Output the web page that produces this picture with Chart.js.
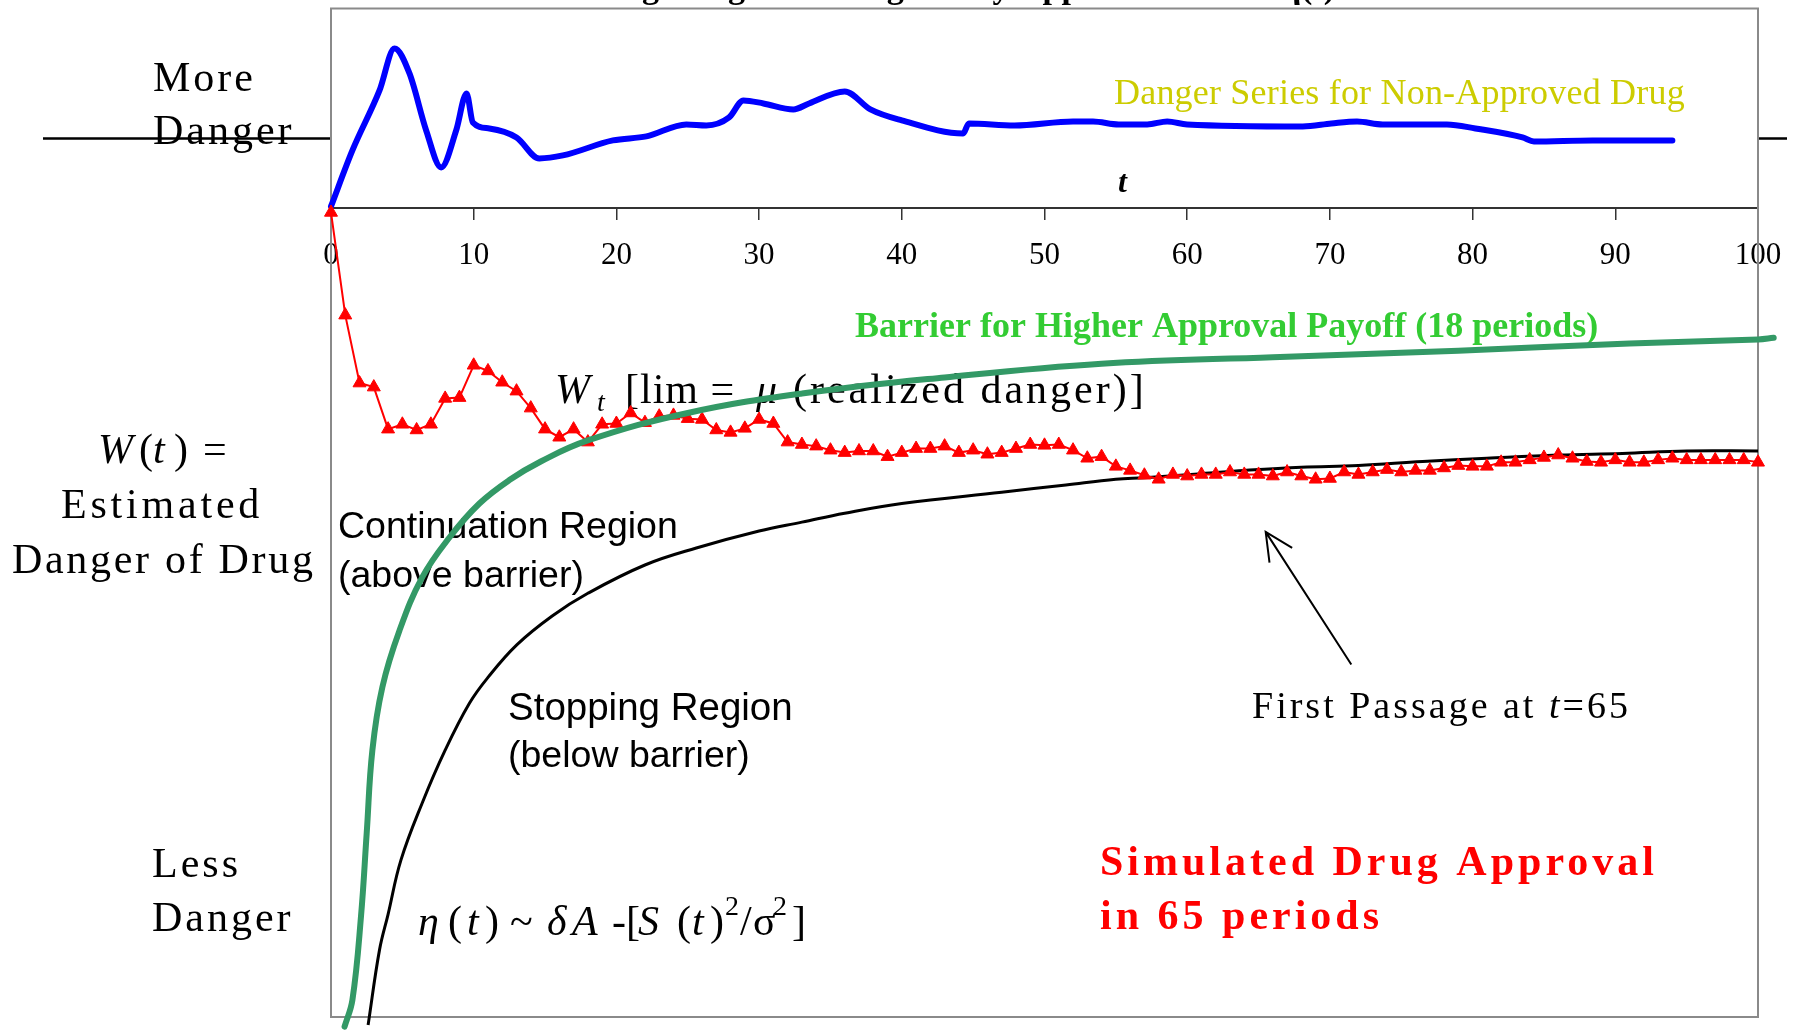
<!DOCTYPE html>
<html><head><meta charset="utf-8">
<script src="https://cdn.jsdelivr.net/npm/chart.js@4.4.0/dist/chart.umd.min.js"></script>
<style>html,body{margin:0;padding:0;background:#fff;}#wrap{width:1804px;height:1030px;}</style>
</head><body><div id="wrap"><canvas id="c" width="1804" height="1030"></canvas></div>
<script>
// ---------- data ----------
const tickValues = [0,10,20,30,40,50,60,70,80,90,100];

// Estimated danger W(t) (red triangles), main panel units (0 = bottom, 100 = t-axis)
const redT = [0,1,2,3,4,5,6,7,8,9,10,11,12,13,14,15,16,17,18,19,20,21,22,23,24,25,26,27,28,29,30,31,32,33,34,35,36,37,38,39,40,41,42,43,44,45,46,47,48,49,50,51,52,53,54,55,56,57,58,59,60,61,62,63,64,65,66,67,68,69,70,71,72,73,74,75,76,77,78,79,80,81,82,83,84,85,86,87,88,89,90,91,92,93,94,95,96,97,98,99,100];
const redW = [99.5,86.8,78.4,77.9,72.7,73.3,72.6,73.3,76.5,76.6,
  80.6,79.9,78.5,77.4,75.3,72.7,71.7,72.7,71.1,73.3,
  73.4,74.7,73.5,74.3,74.4,74.0,73.9,72.6,72.3,72.8,
  73.9,73.4,71.1,70.8,70.6,70.1,69.8,70.0,70.0,69.3,
  69.8,70.3,70.3,70.6,69.8,70.1,69.6,69.8,70.3,70.8,
  70.7,70.8,70.1,69.1,69.3,68.1,67.6,67.0,66.5,67.1,
  66.9,67.1,67.1,67.4,67.1,67.1,66.9,67.4,66.9,66.5,
  66.6,67.4,67.1,67.4,67.7,67.4,67.6,67.6,67.9,68.2,
  68.1,68.1,68.6,68.6,68.9,69.2,69.5,69.1,68.7,68.6,
  68.9,68.6,68.6,68.9,69.1,68.9,68.9,68.9,68.9,68.9,68.6];

// Barrier for higher approval payoff (green)
const barrierT = [0.95,1.5,2.1,2.5,2.9,3.6,4.8,6.4,8.3,10.4,12.5,14.7,18,25,33,43,54,66,79,91,100,101.1];
const barrierV = [-1.2,2.1,12.4,22.7,33.0,40.8,47.8,54.4,59.3,63.5,66.4,68.7,71.3,74.7,77.1,79.1,80.8,81.6,82.4,83.3,83.8,84.0];

// eta(t) curve (black)
const etaT = [2.6,3.4,4,4.9,6.4,8,9.7,11,13,15.5,18,22,25.6,30,33,36,40,47,51.5,55,57,61,64,68,72,76.5,81,86,90.5,95,100];
const etaV = [-1.0,8.3,12.7,19.4,26.5,33.0,38.8,42.0,46.0,49.6,52.4,55.9,58.0,60.1,61.2,62.3,63.5,64.9,65.8,66.5,66.7,67.2,67.6,68.0,68.2,68.7,69.1,69.5,69.7,70.0,70.0];

// Danger series for non-approved drug (blue), top panel units
const dangerT = [0,1.5,3.4,4.45,5.5,6.67,7.72,8.77,9.5,9.94,11.1,13,14.6,16.25,19.75,22.1,24.9,26.3,27.9,28.9,30.3,32.4,33.5,36,37.8,40,44.3,44.7,47.9,52,53.4,55.2,57.2,58.6,60,68.1,70.1,71.9,73.7,78.2,80.2,83.5,84.3,88.4,94];
const dangerV = [1,29,59,80,67.5,39,20.5,39,57.5,43,40,35.5,25,26.5,34,36,42,41.5,45.5,54,52.5,49.5,52.5,58.5,49.5,44,37.5,42.5,41.5,43.5,43.5,42,42,43.5,42,41,42.5,43.5,42,42,40,35.5,33.5,34,34];
const dangerReference = 35;

// ---------- helpers ----------
const pts = (xs, ys) => xs.map((x, i) => ({x: x, y: ys[i]}));
const serif = '"Liberation Serif","Times New Roman",serif';
const sans = '"Liberation Sans",Arial,sans-serif';

function txt(ctx, s, x, y, font, color, ls, align) {
  ctx.font = font;
  ctx.fillStyle = color || '#000';
  ctx.letterSpacing = (ls || 0) + 'px';
  ctx.textAlign = align || 'left';
  ctx.textBaseline = 'alphabetic';
  ctx.fillText(s, x, y);
}

const annotations = {
  id: 'annotations',
  beforeDatasetsDraw(chart) {
    const ctx = chart.ctx;
    const a = chart.chartArea;
    const yTop = chart.scales.yTop;
    ctx.save();
    // clipped title (only descenders visible)
    txt(ctx, 'Drug Danger and Regulatory Approval Barrier \u03B7(t)', 1335, -2, 'bold 34px ' + serif, '#000', 0, 'right');

    // reference line of danger panel outside the box
    const ly = yTop.getPixelForValue(dangerReference);
    ctx.strokeStyle = '#000'; ctx.lineWidth = 2.5;
    ctx.beginPath(); ctx.moveTo(43, ly); ctx.lineTo(a.left, ly);
    ctx.moveTo(a.right, ly); ctx.lineTo(1787, ly); ctx.stroke();

    // plot box
    ctx.strokeStyle = '#8a8a8a'; ctx.lineWidth = 2;
    ctx.strokeRect(a.left, a.top, a.right - a.left, a.bottom - a.top);

    // left labels
    const L = '42px ' + serif;
    txt(ctx, 'More', 153, 91, L, '#000', 3);
    txt(ctx, 'Danger', 153, 144, L, '#000', 3);
    txt(ctx, 'W', 98, 463, 'italic 42px ' + serif, '#000', 0);
    txt(ctx, '(', 139, 463, L, '#000', 0);
    txt(ctx, 't', 153, 463, 'italic 42px ' + serif, '#000', 0);
    txt(ctx, ')', 174, 463, L, '#000', 0);
    txt(ctx, '=', 203, 463, L, '#000', 0);
    txt(ctx, 'Estimated', 61, 518, L, '#000', 3.8);
    txt(ctx, 'Danger of Drug', 12, 573, L, '#000', 2.7);
    txt(ctx, 'Less', 152, 877, L, '#000', 3);
    txt(ctx, 'Danger', 152, 931, L, '#000', 3);

    // top panel labels
    txt(ctx, 'Danger Series for Non-Approved Drug', 1114, 104, '36px ' + serif, '#CCCC00', 0.2);
    txt(ctx, 't', 1118, 192, 'italic bold 32px ' + serif, '#000', 0);

    // barrier label
    txt(ctx, 'Barrier for Higher Approval Payoff (18 periods)', 855, 337, 'bold 36px ' + serif, '#33CC33', 0);

    // W_t label
    txt(ctx, 'W', 555, 403, 'italic 42px ' + serif, '#000', 0);
    txt(ctx, 't', 597, 411, 'italic 28px ' + serif, '#000', 0);
    txt(ctx, '[lim =', 625, 403, '42px ' + serif, '#000', 1);
    txt(ctx, '\u03BC', 756, 403, 'italic 42px ' + serif, '#000', 0);
    txt(ctx, '(realized danger)]', 793, 403, '42px ' + serif, '#000', 3);

    // region labels
    const S = '37.5px ' + sans;
    txt(ctx, 'Continuation Region', 338, 538, S, '#000', 0);
    txt(ctx, '(above barrier)', 338, 587, S, '#000', 0);
    txt(ctx, 'Stopping Region', 508, 720, '38.5px ' + sans, '#000', 0);
    txt(ctx, '(below barrier)', 508, 767, '37.5px ' + sans, '#000', 0);

    // eta formula
    const I = 'italic 42px ' + serif, R = '42px ' + serif, sup = '28px ' + serif;
    txt(ctx, '\u03B7', 418, 935, I); txt(ctx, '(', 448, 935, R); txt(ctx, 't', 467, 935, I);
    txt(ctx, ')', 485, 935, R); txt(ctx, '~', 510, 935, R); txt(ctx, '\u03B4', 547, 935, I);
    txt(ctx, 'A', 572, 935, I); txt(ctx, '-[', 612, 935, R); txt(ctx, 'S', 638, 935, I);
    txt(ctx, '(', 677, 935, R); txt(ctx, 't', 692, 935, I); txt(ctx, ')', 710, 935, R);
    txt(ctx, '2', 725, 915, sup); txt(ctx, '/', 740, 935, R); txt(ctx, '\u03C3', 753, 935, R);
    txt(ctx, '2', 773, 915, sup); txt(ctx, ']', 792, 935, R);

    // first passage
    const F = '38px ' + serif;
    txt(ctx, 'First Passage at ', 1252, 718, F, '#000', 3);
    const w = ctx.measureText('First Passage at ').width;
    txt(ctx, 't', 1252 + w, 718, 'italic 38px ' + serif, '#000', 3);
    const w2 = ctx.measureText('t').width;
    txt(ctx, '=65', 1252 + w + w2, 718, F, '#000', 3);

    // simulated approval
    txt(ctx, 'Simulated Drug Approval', 1100, 875, 'bold 42px ' + serif, '#FF0000', 4);
    txt(ctx, 'in 65 periods', 1100, 929, 'bold 42px ' + serif, '#FF0000', 4);
    ctx.restore();
  },
  afterDatasetsDraw(chart) {
    const ctx = chart.ctx;
    const x = chart.scales.x, y = chart.scales.yMain;
    const x0 = x.getPixelForValue(71.5), y0 = y.getPixelForValue(43.6);
    const x1 = x.getPixelForValue(65.5), y1 = y.getPixelForValue(60.0);
    const ang = Math.atan2(y1 - y0, x1 - x0);
    ctx.save();
    ctx.strokeStyle = '#000'; ctx.lineWidth = 2;
    ctx.beginPath(); ctx.moveTo(x0, y0); ctx.lineTo(x1, y1);
    const hl = 31, ha = 0.45;
    ctx.moveTo(x1 - hl * Math.cos(ang - ha), y1 - hl * Math.sin(ang - ha));
    ctx.lineTo(x1, y1);
    ctx.lineTo(x1 - hl * Math.cos(ang + ha), y1 - hl * Math.sin(ang + ha));
    ctx.stroke();
    ctx.restore();
  }
};

new Chart(document.getElementById('c'), {
  type: 'line',
  data: {
    datasets: [
      { label: 'Barrier', data: pts(barrierT, barrierV), yAxisID: 'yMain', borderColor: '#339966', borderWidth: 6,
        pointRadius: 0, tension: 0.4, clip: false, borderCapStyle: 'round' },
      { label: 'W(t)', data: pts(redT, redW), yAxisID: 'yMain', borderColor: '#FF0000', backgroundColor: '#FF0000',
        borderWidth: 2, pointStyle: 'triangle', pointRadius: 7.5, pointBorderWidth: 1, pointBackgroundColor: '#FF0000',
        pointBorderColor: '#FF0000', tension: 0, clip: false },
      { label: 'eta', data: pts(etaT, etaV), yAxisID: 'yMain', borderColor: '#000', borderWidth: 3,
        pointRadius: 0, tension: 0.4, clip: false },
      { label: 'Danger', data: pts(dangerT, dangerV), yAxisID: 'yTop', borderColor: '#0000FF', borderWidth: 6,
        pointRadius: 0, tension: 0.4, cubicInterpolationMode: 'monotone', clip: false, borderCapStyle: 'round', borderJoinStyle: 'round' }
    ]
  },
  options: {
    responsive: false,
    devicePixelRatio: 1,
    animation: false,
    layout: { padding: { left: 331, right: 46, top: 8, bottom: 13 } },
    plugins: { legend: { display: false }, tooltip: { enabled: false } },
    scales: {
      x: {
        type: 'linear', position: { yTop: 0 },
        afterDataLimits: (s) => { s.min = 0; s.max = 100; },
        afterBuildTicks: (s) => { s.ticks = tickValues.map(v => ({ value: v })); s.min = 0; s.max = 100; },
        grid: { drawOnChartArea: false, drawTicks: true, tickLength: 11, color: '#333', lineWidth: 1.5 },
        border: { display: true, color: '#333', width: 2 },
        ticks: { font: { family: serif, size: 31 }, color: '#000', padding: 18, maxRotation: 0, autoSkip: false }
      },
      yTop: { type: 'linear', min: 0, max: 100, display: false, position: 'left', stack: 'v', stackWeight: 200, weight: 2 },
      yMain: { type: 'linear', min: 0, max: 100, display: false, position: 'left', stack: 'v', stackWeight: 809, weight: 1 }
    }
  },
  plugins: [annotations]
});
</script></body></html>
